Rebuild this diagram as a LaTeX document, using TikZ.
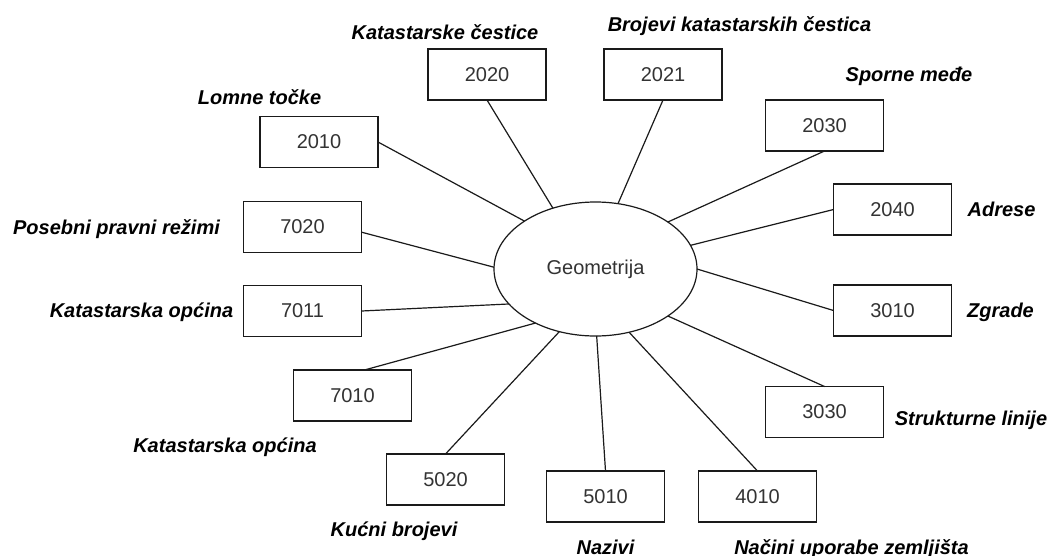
\documentclass[tikz,border=0pt]{standalone}
\usepackage{fontspec}
\setmainfont{Liberation Sans}
\usetikzlibrary{shapes.geometric}
\definecolor{txtgray}{HTML}{333333}
\definecolor{linec}{HTML}{1A1A1A}
\tikzset{
  codebox/.style={draw=linec, line width=1.2pt, minimum width=118pt, minimum height=51pt, inner sep=0pt, outer sep=0pt,
    font=\fontsize{20}{24}\selectfont, text=txtgray},
  lbl/.style={font=\fontsize{20}{24}\selectfont\bfseries\itshape, inner sep=0pt, text height=14.3pt, text depth=0pt},
  conn/.style={draw=linec, line width=1.2pt}
}
\begin{document}
\begin{tikzpicture}[x=1pt,y=-1pt]
\useasboundingbox[fill=white] (0,0) rectangle (1056,555);
% centre
\node[ellipse, draw=linec, line width=1.2pt, minimum width=203pt, minimum height=134pt, inner sep=0pt, outer sep=0pt,
  font=\fontsize{20}{24}\selectfont, text=txtgray] (geo) at (595.5,269) {Geometrija};
% boxes
\node[codebox] (b2010) at (319,142) {2010};
\node[codebox] (b2020) at (487,74.5) {2020};
\node[codebox] (b2021) at (663,74.5) {2021};
\node[codebox] (b2030) at (824.5,125.5) {2030};
\node[codebox] (b2040) at (892.5,209.5) {2040};
\node[codebox] (b3010) at (892.5,310.5) {3010};
\node[codebox] (b3030) at (824.5,412) {3030};
\node[codebox] (b4010) at (757.5,496.5) {4010};
\node[codebox] (b5010) at (605.5,496.5) {5010};
\node[codebox] (b5020) at (445.5,479.5) {5020};
\node[codebox] (b7010) at (352.5,395.5) {7010};
\node[codebox] (b7011) at (302.5,311) {7011};
\node[codebox] (b7020) at (302.5,227) {7020};
% labels
\node[lbl] (l2010) at (259.5,97) {Lomne točke};
\node[lbl] (l2020) at (445,32) {Katastarske čestice};
\node[lbl] (l2021) at (739.5,24) {Brojevi katastarskih čestica};
\node[lbl] (l2030) at (909,74) {Sporne međe};
\node[lbl] (l2040) at (1001.5,209) {Adrese};
\node[lbl] (l3010) at (1000.5,310) {Zgrade};
\node[lbl] (l3030) at (971,418) {Strukturne linije};
\node[lbl] (l4010) at (851.5,547) {Načini uporabe zemljišta};
\node[lbl] (l5010) at (605.5,547) {Nazivi};
\node[lbl] (l5020) at (394,529) {Kućni brojevi};
\node[lbl] (l7010) at (225,445) {Katastarska općina};
\node[lbl] (l7011) at (141.5,310) {Katastarska općina};
\node[lbl] (l7020) at (116.5,227) {Posebni pravni režimi};
% connectors
\path[conn] (b2010.east) -- (geo.146.5);
\path[conn] (b2020.south) -- (geo.125.7);
\path[conn] (b2021.south) -- (geo.71.3);
\path[conn] (b2030.south) -- (geo.33.5);
\path[conn] (b2040.west) -- (geo.14.8);
\path[conn] (b3010.west) -- (geo.-0.5);
\path[conn] (b3030.north) -- (geo.-33.5);
\path[conn] (b4010.north) -- (geo.-62.4);
\path[conn] (b5010.north) -- (geo.-89.6);
\path[conn] (b5020.north) -- (geo.-120);
\path[conn] (b7010.65.7) -- (geo.-138.3);
\path[conn] (b7011.east) -- (geo.-158.2);
\path[conn] (b7020.-5.8) -- (geo.179.4);
\end{tikzpicture}
\end{document}
